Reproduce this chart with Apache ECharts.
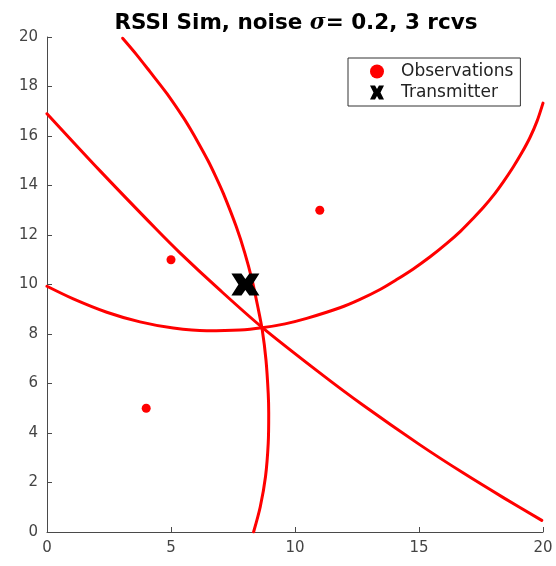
<!DOCTYPE html>
<html>
<head>
<meta charset="utf-8">
<script src="https://cdn.jsdelivr.net/npm/echarts@6/dist/echarts.min.js"></script>
<style>
  html, body { margin: 0; padding: 0; background: #fff; }
  #chart { width: 556px; height: 566px; }
</style>
</head>
<body>
<div id="chart"></div>
<script>
// Receiver positions
const observations = [[4, 5], [5, 11], [11, 13]];
// True transmitter position
const transmitter = [[8, 10]];

// RSSI ratio curves (Apollonius arcs) between receiver pairs
const curveA = [[3.05, 19.95], [3.6, 19.3], [4.15, 18.6], [4.83, 17.72], [5.5, 16.74],
  [5.8, 16.25], [6.12, 15.69], [6.5, 14.99], [6.8, 14.37], [7.11, 13.68], [7.63, 12.34],
  [7.98, 11.26], [8.27, 10.18], [8.5, 9.1], [8.68, 8.16], [8.83, 6.95], [8.92, 5.6],
  [8.94, 4.8], [8.92, 3.58], [8.81, 2.23], [8.6, 1.02], [8.33, 0]];
const curveB = [[0, 16.9], [2.14, 14.59], [4.42, 12.22], [5.36, 11.28], [7.0, 9.75], [8.66, 8.28],
  [11.0, 6.43], [12.75, 5.12], [15.04, 3.52], [16.79, 2.38], [18.4, 1.39], [19.95, 0.47]];
const curveC = [[0, 9.93], [1.06, 9.42], [2.41, 8.88], [3.75, 8.49], [5.09, 8.24], [6.44, 8.13],
  [7.78, 8.16], [8.66, 8.25], [9.6, 8.41], [10.47, 8.63], [11.81, 9.06], [12.6, 9.39], [13.43, 9.8],
  [14.1, 10.2], [14.77, 10.63], [15.45, 11.12], [16.12, 11.66], [16.68, 12.16], [17.19, 12.68],
  [17.6, 13.12], [18.0, 13.6], [18.4, 14.15], [18.8, 14.75], [19.15, 15.33], [19.48, 15.95],
  [19.76, 16.6], [20, 17.33]];

const xTicks = [0, 5, 10, 15, 20];
const yTicks = [0, 2, 4, 6, 8, 10, 12, 14, 16, 18, 20];

const axisColor = '#4a4a4a';
const xMark = 'path://M0,0 L3.6,0 L5,2.5 L6.4,0 L10,0 L7.5,5 L10,10 L6.4,10 L5,7.5 L3.6,10 L0,10 L2.5,5 Z';

const curveStyle = {
  type: 'line', smooth: 0.3, showSymbol: false, silent: true,
  lineStyle: { color: '#ff0000', width: 3, join: 'round', cap: 'round' }, z: 2
};

const chart = echarts.init(document.getElementById('chart'), null, { renderer: 'canvas' });
chart.setOption({
  animation: false,
  backgroundColor: '#ffffff',
  title: {
    text: '{b|RSSI Sim, noise }{i|σ}{b|= 0.2, 3 rcvs}',
    left: 291, top: 7, textAlign: 'center',
    textStyle: {
      rich: {
        b: { fontFamily: 'DejaVu Sans', fontWeight: 'bold', fontSize: 21.5, color: '#000' },
        i: { fontFamily: 'DejaVu Serif', fontStyle: 'italic', fontSize: 21.5, color: '#000' }
      }
    }
  },
  legend: {
    data: ['Observations', 'Transmitter'],
    orient: 'vertical',
    left: 348, top: 58,
    padding: [5, 7, 5, 22],
    itemGap: 4,
    itemWidth: 16, itemHeight: 14,
    borderColor: '#333', borderWidth: 1, borderRadius: 0,
    backgroundColor: '#fff',
    textStyle: { fontFamily: 'DejaVu Sans', fontSize: 17, color: '#222', padding: [0, 0, 0, 11] }
  },
  grid: { left: 47, right: 13, top: 37, bottom: 34, containLabel: false },
  xAxis: {
    type: 'value', min: 0, max: 20, interval: 5,
    axisLine: { show: true, lineStyle: { color: axisColor, width: 1 } },
    axisTick: { show: true, inside: true, length: 5, lineStyle: { color: axisColor } },
    axisLabel: {
      fontFamily: 'DejaVu Sans', fontSize: 15, color: '#444', margin: 9,
      formatter: v => xTicks.includes(v) ? String(v) : ''
    },
    splitLine: { show: false }
  },
  yAxis: {
    type: 'value', min: 0, max: 20, interval: 2,
    axisLine: { show: true, lineStyle: { color: axisColor, width: 1 } },
    axisTick: { show: true, inside: true, length: 5, lineStyle: { color: axisColor } },
    axisLabel: {
      fontFamily: 'DejaVu Sans', fontSize: 15, color: '#444', margin: 9,
      formatter: v => yTicks.includes(v) ? String(v) : ''
    },
    splitLine: { show: false }
  },
  series: [
    Object.assign({ name: 'curveA', data: curveA }, curveStyle),
    Object.assign({ name: 'curveB', data: curveB }, curveStyle),
    Object.assign({ name: 'curveC', data: curveC }, curveStyle),
    {
      name: 'Observations', type: 'scatter', data: observations,
      symbol: 'circle', symbolSize: 9,
      itemStyle: { color: '#ff0000', opacity: 1 }, z: 3
    },
    {
      name: 'Transmitter', type: 'scatter', data: transmitter,
      symbol: xMark, symbolSize: [28, 22],
      itemStyle: { color: '#000000', opacity: 1 }, z: 4
    }
  ]
});
</script>
</body>
</html>
